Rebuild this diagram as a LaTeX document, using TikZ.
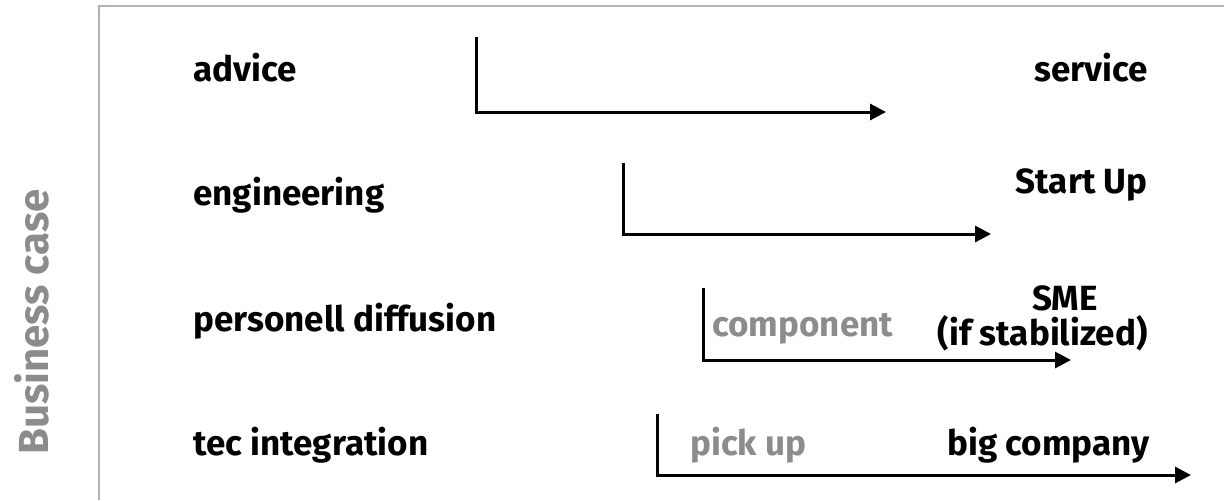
\documentclass[tikz,border=0pt]{standalone}
\usepackage{fontspec}
\setmainfont{Fira Sans}
\usetikzlibrary{arrows.meta}

\tikzset{
	case/.style={font=\fontsize{17.5}{21}\selectfont\bfseries, inner sep=0pt},
	hint/.style={case, text=hintgray},
	flow/.style={line width=1.5pt, -{Triangle[length=8pt,width=8pt]}},
}
\definecolor{framegray}{RGB}{170,181,191}
\definecolor{hintgray}{RGB}{140,140,140}

\begin{document}
\begin{tikzpicture}[x=0.5pt,y=-0.5pt]
		\useasboundingbox (0,0) rectangle (1224,500);
		\draw[framegray, line width=1.2pt] (99,500) -- (99,6) -- (1224,6);
		\node[case, text=hintgray, font=\fontsize{21}{25}\selectfont\bfseries, rotate=90] (axis) at (32,322){Business case};
		% left column
		\node[case, anchor=base west] (advice) at (193,81){advice};
		\node[case, anchor=base west] (engineering) at (193,205){engineering};
		\node[case, anchor=base west] (diffusion) at (193,331){personell diffusion};
		\node[case, anchor=base west] (integration) at (193,455){tec integration};
		% right column
		\node[case, anchor=base east] (service) at (1148,81){service};
		\node[case, anchor=base east] (startup) at (1148,193){Start Up};
		\node[case, anchor=base] (sme) at (1065,310){SME};
		\node[case, anchor=base east] (stabilized) at (1148,345){(if stabilized)};
		\node[case, anchor=base east] (bigcompany) at (1150,455){big company};
		\node[hint, anchor=base west] (component) at (712,336){component};
		\node[hint, anchor=base west] (pickup) at (690,455){pick up};
		% arrows
		\coordinate (a1) at (476,37);  \coordinate (b1) at (886,112);
		\coordinate (a2) at (623,163); \coordinate (b2) at (991,234);
		\coordinate (a3) at (703,288); \coordinate (b3) at (1071,360);
		\coordinate (a4) at (657,414); \coordinate (b4) at (1191,475);
		\foreach \i in {1,...,4} \draw[flow] (a\i) |- (b\i);
	\end{tikzpicture}
\end{document}
